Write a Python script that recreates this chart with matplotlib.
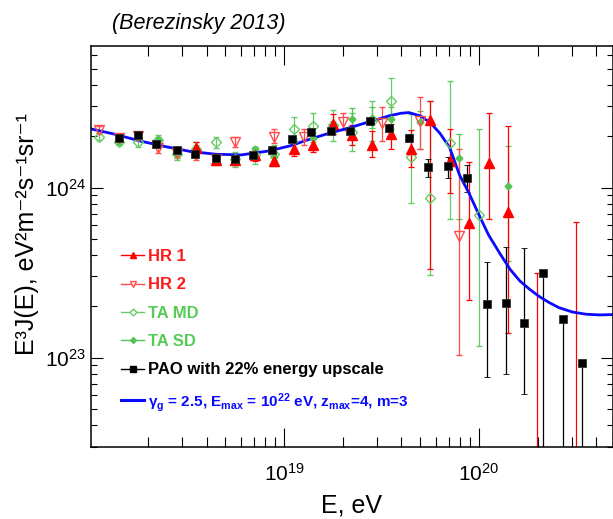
import matplotlib
matplotlib.use("Agg")
import matplotlib.pyplot as plt
from matplotlib.lines import Line2D
import numpy as np

plt.rcParams['font.family'] = ['Liberation Sans', 'DejaVu Sans']
plt.rcParams['mathtext.default'] = 'regular'

# all values are log10(E / eV) and log10(E^3 J / eV^2 m^-2 s^-1 sr^-1)
# PAO with 22% energy upscale
pao_lgE = [18.15, 18.25, 18.34, 18.45, 18.54, 18.65, 18.75, 18.84, 18.94, 19.04, 19.14, 19.24, 19.34,
           19.44, 19.54, 19.64, 19.74, 19.84, 19.94, 20.04, 20.14, 20.23, 20.33, 20.43, 20.53]
pao_lgJ = [24.294, 24.308, 24.255, 24.221, 24.200, 24.171, 24.168, 24.192, 24.221, 24.284, 24.329, 24.333,
           24.333, 24.394, 24.349, 24.290, 24.118, 24.124, 24.059, 23.314, 23.324, 23.206, 23.496, 23.229, 22.966]
pao_hi = [24.298, 24.312, 24.259, 24.225, 24.204, 24.175, 24.172, 24.196, 24.225, 24.292, 24.337, 24.343,
          24.345, 24.412, 24.372, 24.315, 24.166, 24.182, 24.131, 23.562, 23.651, 23.645, 23.506, 23.239, 22.976]
pao_lo = [24.290, 24.304, 24.251, 24.217, 24.196, 24.167, 24.164, 24.188, 24.217, 24.276, 24.321, 24.323,
          24.321, 24.376, 24.326, 24.265, 24.064, 24.059, 23.971, 22.888, 22.902, 22.784, 21.0, 21.0, 21.0]

# HiRes 1
hr1_lgE = [18.55, 18.65, 18.75, 18.85, 18.95, 19.05, 19.15, 19.25, 19.35, 19.45, 19.55, 19.65, 19.75,
           19.85, 19.95, 20.05, 20.15, 20.30, 20.50]
hr1_lgJ = [24.235, 24.162, 24.162, 24.190, 24.155, 24.225, 24.252, 24.375, 24.309, 24.249, 24.314, 24.229,
           24.398, 24.156, 23.793, 24.146, 23.856, 21.5, 21.5]
hr1_hi = [24.265, 24.192, 24.192, 24.225, 24.205, 24.265, 24.297, 24.435, 24.369, 24.333, 24.372, 24.339,
          24.509, 24.347, 24.153, 24.441, 24.362, 23.496, 23.800]
hr1_lo = [24.205, 24.132, 24.132, 24.155, 24.125, 24.185, 24.207, 24.315, 24.249, 24.180, 24.229, 24.118,
          23.520, 23.966, 23.339, 23.814, 23.143, 21.0, 21.0]

# HiRes 2
hr2_lgE = [18.05, 18.15, 18.25, 18.35, 18.45, 18.55, 18.65, 18.75, 18.95, 19.10, 19.30, 19.50, 19.70, 19.90]
hr2_lgJ = [24.341, 24.294, 24.304, 24.235, 24.202, 24.193, 24.166, 24.269, 24.299, 24.298, 24.387, 24.378,
           24.392, 23.715]
hr2_hi = [24.361, 24.314, 24.324, 24.265, 24.232, 24.223, 24.196, 24.299, 24.345, 24.343, 24.437, 24.472,
          24.530, 24.225]
hr2_lo = [24.321, 24.274, 24.284, 24.205, 24.172, 24.163, 24.136, 24.239, 24.264, 24.253, 24.337, 24.274,
          24.227, 23.014]

# TA MD
tamd_lgE = [18.05, 18.15, 18.25, 18.35, 18.45, 18.55, 18.65, 18.75, 18.85, 18.95, 19.05, 19.15, 19.25,
            19.35, 19.45, 19.55, 19.65, 19.75, 19.85, 20.00]
tamd_lgJ = [24.300, 24.268, 24.265, 24.280, 24.196, 24.225, 24.265, 24.166, 24.190, 24.196, 24.343, 24.361,
            24.366, 24.325, 24.390, 24.509, 24.182, 23.940, 24.262, 23.838]
tamd_hi = [24.320, 24.288, 24.290, 24.310, 24.231, 24.270, 24.300, 24.211, 24.240, 24.251, 24.413, 24.441,
           24.456, 24.440, 24.509, 24.647, 24.431, 24.509, 24.627, 24.343]
tamd_lo = [24.280, 24.248, 24.240, 24.250, 24.161, 24.180, 24.230, 24.121, 24.140, 24.141, 24.273, 24.281,
           24.276, 24.215, 24.274, 24.343, 23.908, 23.484, 23.818, 23.068]

# TA SD
tasd_lgE = [18.15, 18.25, 18.35, 18.45, 18.55, 18.65, 18.75, 18.85, 18.95, 19.05, 19.15, 19.25, 19.35,
            19.45, 19.55, 19.70, 19.90, 20.15]
tasd_lgJ = [24.274, 24.300, 24.280, 24.200, 24.235, 24.156, 24.155, 24.225, 24.178, 24.274, 24.294, 24.353,
            24.405, 24.412, 24.406, 24.384, 24.174, 24.009]
tasd_hi = [24.289, 24.315, 24.295, 24.215, 24.250, 24.171, 24.170, 24.240, 24.193, 24.294, 24.319, 24.393,
           24.465, 24.472, 24.476, 24.450, 24.314, 24.245]
tasd_lo = [24.259, 24.285, 24.265, 24.185, 24.220, 24.141, 24.140, 24.210, 24.163, 24.254, 24.269, 24.313,
           24.345, 24.352, 24.336, 24.229, 23.818, 23.568]

# model curve
model_lgE = [18.00, 18.13, 18.26, 18.39, 18.52, 18.65, 18.78, 18.92, 19.03, 19.13, 19.23, 19.34, 19.44,
             19.54, 19.60, 19.64, 19.70, 19.75, 19.80, 19.85, 19.90, 19.95, 20.00, 20.05, 20.11, 20.16,
             20.21, 20.26, 20.31, 20.36, 20.41, 20.48, 20.55, 20.62, 20.69]
model_lgJ = [24.347, 24.314, 24.274, 24.241, 24.212, 24.196, 24.192, 24.215, 24.245, 24.284, 24.319, 24.353,
             24.388, 24.422, 24.437, 24.441, 24.421, 24.382, 24.319, 24.235, 24.075, 23.965, 23.840, 23.720,
             23.608, 23.519, 23.451, 23.402, 23.359, 23.324, 23.294, 23.268, 23.255, 23.251, 23.253]


def errbars(ax, lgE, lgJ, hi, lo, **kw):
    E = 10 ** np.array(lgE)
    J = 10 ** np.array(lgJ)
    yerr = [J - 10 ** np.array(lo), 10 ** np.array(hi) - J]
    ax.errorbar(E, J, yerr=yerr, linestyle='none', capsize=2.5, elinewidth=0.9, capthick=0.9, **kw)


fig = plt.figure(figsize=(6.13, 5.19), dpi=100)
ax = fig.add_axes([91 / 613, 72.5 / 519, 521.5 / 613, 400.5 / 519])

red = '#ff0000'
red2 = '#ff4d4d'
green = '#66cc66'
green2 = '#55c455'
blue = '#0a0aff'

errbars(ax, tamd_lgE, tamd_lgJ, tamd_hi, tamd_lo, marker='D', ms=5, mfc='none', mec=green, mew=1,
        color=green, ecolor=green)
errbars(ax, tasd_lgE, tasd_lgJ, tasd_hi, tasd_lo, marker='D', ms=3.5, mfc=green2, mec=green2,
        color=green2, ecolor=green2)
errbars(ax, hr2_lgE, hr2_lgJ, hr2_hi, hr2_lo, marker='v', ms=7, mfc='none', mec=red2, mew=1,
        color=red2, ecolor=red2)
errbars(ax, hr1_lgE, hr1_lgJ, hr1_hi, hr1_lo, marker='^', ms=6.5, mfc=red, mec=red, color=red, ecolor=red)
errbars(ax, pao_lgE, pao_lgJ, pao_hi, pao_lo, marker='s', ms=6, mfc='black', mec='#333333', mew=0.6,
        color='black', ecolor='black')
ax.plot(10 ** np.array(model_lgE), 10 ** np.array(model_lgJ), color=blue, lw=2)

ax.set_xscale('log')
ax.set_yscale('log')
ax.set_xlim(1.02e18, 4.85e20)
ax.set_ylim(3.0e22, 6.8e24)

ax.tick_params(which='both', direction='in', top=True, right=True, width=0.8, labelsize=15)
ax.tick_params(axis='x', which='major', length=14, pad=12)
ax.tick_params(axis='x', which='minor', length=7)
ax.tick_params(axis='y', which='major', length=8.5, pad=3.5)
ax.tick_params(axis='y', which='minor', length=4.5)
ax.yaxis.set_minor_formatter(plt.NullFormatter())
ax.xaxis.set_minor_formatter(plt.NullFormatter())
for s in ax.spines.values():
    s.set_linewidth(1.1)

ax.set_xlabel('E, eV', fontsize=18)
ax.xaxis.set_label_coords(0.5, -0.118)
ax.set_ylabel('E³J(E), eV²m⁻²s⁻¹sr⁻¹', fontsize=18)
ax.yaxis.set_label_coords(-0.10, 0.53)

fig.text(112 / 613, 1 - 23 / 519, '(Berezinsky 2013)', fontsize=15.5, style='italic', va='center')

handles = [
    Line2D([], [], color=red, marker='^', ms=5, lw=1),
    Line2D([], [], color=red2, marker='v', ms=5, mfc='white', lw=1),
    Line2D([], [], color=green, marker='D', ms=3.5, mfc='white', lw=1),
    Line2D([], [], color=green2, marker='D', ms=3, lw=1),
    Line2D([], [], color='black', marker='s', ms=4.5, lw=1),
    Line2D([], [], color=blue, lw=2.2),
]
labels = ['HR 1', 'HR 2', 'TA MD', 'TA SD', 'PAO with 22% energy upscale',
          r'$\gamma_g$ = 2.5, E$_{max}$ = 10$^{22}$ eV, z$_{max}$=4, m=3']
text_colors = ['#ff1a1a', '#ff1a1a', '#55cc55', '#55cc55', 'black', blue]
leg = ax.legend(handles, labels, loc='upper left', bbox_to_anchor=(0.0575, 0.493), frameon=False,
                prop={'weight': 'bold', 'size': 12}, handlelength=1.4, handletextpad=0.2,
                labelspacing=0.8, borderpad=0, borderaxespad=0)
for t, c in zip(leg.get_texts(), text_colors):
    t.set_color(c)
leg.get_texts()[-1].set_fontsize(11)

fig.savefig('out.png', dpi=100)
